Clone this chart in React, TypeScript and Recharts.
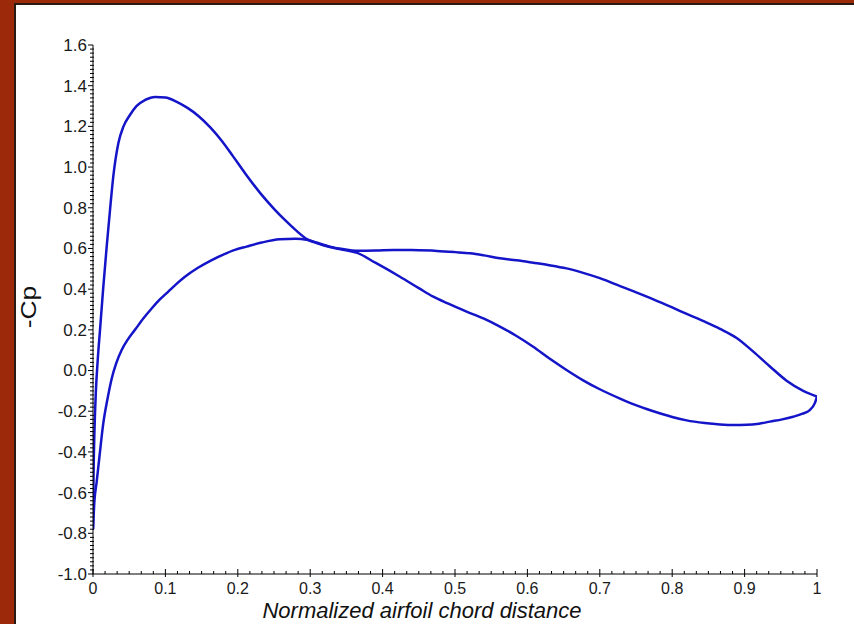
import React from 'react'
import { LineChart, Line, XAxis, YAxis } from 'recharts'

// chord position (x/c) and -Cp
const upperX = [0, 0.0008, 0.002, 0.004, 0.0065, 0.0097, 0.014, 0.0189, 0.0235, 0.028, 0.035, 0.042, 0.051, 0.06, 0.072, 0.086, 0.1, 0.115, 0.13, 0.146, 0.162, 0.178, 0.193, 0.21, 0.231, 0.25, 0.265, 0.28, 0.296, 0.31, 0.327, 0.345, 0.365, 0.39, 0.424, 0.45, 0.47, 0.49, 0.516, 0.54, 0.562, 0.585, 0.608, 0.63, 0.654, 0.677, 0.7, 0.728, 0.746, 0.774, 0.8, 0.82, 0.845, 0.866, 0.885, 0.903, 0.92, 0.935, 0.952, 0.967, 0.98, 0.99, 0.997, 1.0]
const upperCp = [-0.78, -0.5, -0.3, -0.1, 0.05, 0.2, 0.4, 0.609, 0.789, 0.953, 1.117, 1.199, 1.256, 1.3, 1.33, 1.345, 1.342, 1.322, 1.292, 1.25, 1.195, 1.128, 1.055, 0.97, 0.872, 0.795, 0.74, 0.69, 0.645, 0.625, 0.607, 0.594, 0.578, 0.53, 0.461, 0.405, 0.363, 0.33, 0.29, 0.255, 0.216, 0.17, 0.117, 0.06, 0.003, -0.048, -0.092, -0.138, -0.165, -0.2, -0.228, -0.245, -0.258, -0.265, -0.268, -0.267, -0.261, -0.251, -0.24, -0.227, -0.212, -0.194, -0.16, -0.128]

const lowerX = [0, 0.002, 0.005, 0.009, 0.0142, 0.02, 0.0258, 0.032, 0.0396, 0.048, 0.058, 0.07, 0.081, 0.092, 0.104, 0.115, 0.127, 0.145, 0.164, 0.18, 0.196, 0.212, 0.233, 0.258, 0.28, 0.295, 0.31, 0.327, 0.345, 0.364, 0.39, 0.415, 0.44, 0.475, 0.5, 0.521, 0.54, 0.562, 0.585, 0.608, 0.63, 0.654, 0.677, 0.7, 0.728, 0.746, 0.774, 0.8, 0.82, 0.845, 0.866, 0.889, 0.912, 0.935, 0.958, 0.981, 1.0]
const lowerCp = [-0.78, -0.64, -0.55, -0.42, -0.26, -0.14, -0.04, 0.035, 0.101, 0.152, 0.2, 0.258, 0.305, 0.348, 0.388, 0.425, 0.461, 0.505, 0.543, 0.57, 0.593, 0.609, 0.629, 0.645, 0.648, 0.643, 0.628, 0.609, 0.597, 0.589, 0.59, 0.593, 0.592, 0.588, 0.582, 0.576, 0.566, 0.552, 0.542, 0.53, 0.518, 0.502, 0.48, 0.454, 0.415, 0.39, 0.35, 0.31, 0.278, 0.24, 0.205, 0.16, 0.093, 0.02, -0.05, -0.1, -0.128]

const xMajor = [0, 0.1, 0.2, 0.3, 0.4, 0.5, 0.6, 0.7, 0.8, 0.9, 1]
const xLabels = ['0', '0.1', '0.2', '0.3', '0.4', '0.5', '0.6', '0.7', '0.8', '0.9', '1']
const yMajor = [-1.0, -0.8, -0.6, -0.4, -0.2, 0.0, 0.2, 0.4, 0.6, 0.8, 1.0, 1.2, 1.4, 1.6]
const yLabels = ['-1.0', '-0.8', '-0.6', '-0.4', '-0.2', '0.0', '0.2', '0.4', '0.6', '0.8', '1.0', '1.2', '1.4', '1.6']

// minor ticks: 6 per x interval, 10 per y interval
const xTicks = Array.from({ length: 61 }, (_, i) => i / 60)
const yTicks = Array.from({ length: 131 }, (_, i) => Math.round((-1 + i * 0.02) * 1000) / 1000)

const upperData = upperX.map((x, i) => ({ x, cp: upperCp[i] }))
const lowerData = lowerX.map((x, i) => ({ x, cp: lowerCp[i] }))

const FONT = '"Liberation Sans", Arial, sans-serif'
const BLUE = '#1414c8'

const XTick = (props: any) => {
  const { x, y, payload } = props
  const k = xMajor.findIndex(m => Math.abs(m - payload.value) < 1e-6)
  const major = k >= 0
  return (
    <g>
      <line x1={x} x2={x} y1={y - (major ? 5 : 3)} y2={y + (major ? 3 : 0)} stroke="#000" strokeWidth={1} />
      {major && (
        <text x={x} y={y + 20} textAnchor="middle" fontSize={16} fontFamily={FONT} fill="#1a1a1a">
          {xLabels[k]}
        </text>
      )}
    </g>
  )
}

const YTick = (props: any) => {
  const { x, y, payload } = props
  const k = yMajor.findIndex(m => Math.abs(m - payload.value) < 1e-6)
  const major = k >= 0
  return (
    <g>
      <line x1={x - (major ? 5 : 3)} x2={x + (major ? 0 : 1)} y1={y} y2={y} stroke="#000" strokeWidth={1} />
      {major && (
        <text x={x - 6} y={y} dy="0.35em" textAnchor="end" fontSize={17} fontFamily={FONT} fill="#1a1a1a">
          {yLabels[k]}
        </text>
      )}
    </g>
  )
}

export default function App() {
  return (
    <div style={{ position: 'fixed', left: 0, top: 0, width: 854, height: 624, background: '#9c2a0a', overflow: 'hidden', fontFamily: FONT }}>
      <div style={{ position: 'absolute', left: 14, top: 3, width: 840, height: 621, background: '#fff', borderLeft: '2px solid #2a1a14', borderTop: '2px solid #2a1a14', boxSizing: 'border-box' }} />
      <div style={{ position: 'absolute', left: 0, top: 0 }}>
        <LineChart width={854} height={624} margin={{ top: 45, right: 37, bottom: 20, left: 33 }}>
          <XAxis
            dataKey="x"
            type="number"
            domain={[0, 1]}
            ticks={xTicks}
            interval={0}
            tick={<XTick />}
            tickLine={false}
            tickSize={0}
            tickMargin={0}
            height={30}
            axisLine={{ stroke: '#000', strokeWidth: 1 }}
            allowDataOverflow
          />
          <YAxis
            type="number"
            domain={[-1, 1.6]}
            ticks={yTicks}
            interval={0}
            tick={<YTick />}
            tickLine={false}
            tickSize={0}
            tickMargin={0}
            width={60}
            axisLine={{ stroke: '#000', strokeWidth: 1 }}
            allowDataOverflow
          />
          <Line data={upperData} dataKey="cp" type="monotone" stroke={BLUE} strokeWidth={2.5} dot={false} isAnimationActive={false} />
          <Line data={lowerData} dataKey="cp" type="monotone" stroke={BLUE} strokeWidth={2.5} dot={false} isAnimationActive={false} />
        </LineChart>
      </div>
      <div style={{ position: 'absolute', left: 422, top: 598, transform: 'translateX(-50%)', whiteSpace: 'nowrap', fontFamily: FONT, fontStyle: 'italic', fontSize: 22, lineHeight: '26px', color: '#111' }}>
        Normalized airfoil chord distance
      </div>
      <div style={{ position: 'absolute', left: 29, top: 307, transform: 'translate(-50%, -50%) rotate(-90deg) scaleX(1.2)', whiteSpace: 'nowrap', fontFamily: FONT, fontSize: 22, lineHeight: '24px', color: '#111' }}>
        -Cp
      </div>
    </div>
  )
}
